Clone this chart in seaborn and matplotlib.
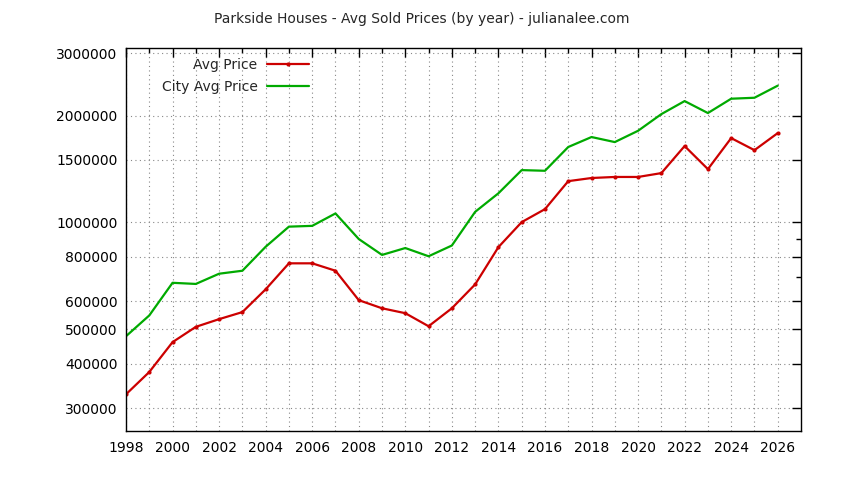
import numpy as np
import pandas as pd
import matplotlib
matplotlib.use('Agg')
import matplotlib.pyplot as plt
import matplotlib.ticker as mticker
import seaborn as sns

# Data
years = list(range(1998, 2027))
avg_price = [328000, 379000, 460000, 508000, 534000, 559000, 648000, 767000, 767000, 731000,
             604000, 573000, 555000, 510000, 573000, 669000, 852000, 1002000, 1090000, 1307000,
             1334000, 1343000, 1343000, 1377000, 1641000, 1413000, 1728000, 1598000, 1785000]
city_avg_price = [478000, 547000, 676000, 671000, 717000, 731000, 854000, 973000, 978000, 1060000,
                  898000, 810000, 847000, 803000, 861000, 1071000, 1208000, 1404000, 1398000, 1631000,
                  1740000, 1684000, 1812000, 2019000, 2197000, 2033000, 2231000, 2245000, 2428000]
y_ticks = [300000, 400000, 500000, 600000, 800000, 1000000, 1500000, 2000000, 3000000]
y_minor = [700000, 900000]
x_ticks = list(range(1998, 2027, 2))

df = pd.DataFrame({'Year': years, 'Avg Price': avg_price, 'City Avg Price': city_avg_price})

sns.set_style('white')
plt.rcParams['font.family'] = ['DejaVu Sans']
FS = 10

fig = plt.figure(figsize=(8.44, 4.8), dpi=100)
ax = fig.add_axes([126 / 844, 1 - 431 / 480, 675 / 844, 383 / 480])

sns.lineplot(data=df, x='Year', y='Avg Price', ax=ax, color='#cc0000', linewidth=1.6,
             marker='o', markersize=3, markeredgewidth=0, label='Avg Price')
sns.lineplot(data=df, x='Year', y='City Avg Price', ax=ax, color='#00aa00', linewidth=1.6,
             label='City Avg Price')

ax.set_yscale('log')
ax.set_ylim(258500, 3100000)
ax.set_xlim(1998, 2027)

ax.yaxis.set_major_locator(mticker.FixedLocator(y_ticks))
ax.yaxis.set_minor_locator(mticker.FixedLocator(y_minor))
ax.yaxis.set_major_formatter(mticker.FixedFormatter([str(v) for v in y_ticks]))
ax.yaxis.set_minor_formatter(mticker.NullFormatter())
ax.xaxis.set_major_locator(mticker.FixedLocator(x_ticks))
ax.xaxis.set_minor_locator(mticker.FixedLocator(years))

ax.tick_params(which='both', direction='in', top=True, right=True, color='black', width=1)
ax.tick_params(which='major', length=6.5, labelsize=FS, colors='black')
ax.tick_params(which='minor', length=3.5)
ax.tick_params(axis='x', which='major', pad=7)
ax.tick_params(axis='y', which='major', pad=6)

ax.grid(False)
ax.grid(axis='y', which='major', linestyle=(0, (1, 3)), color='#888888', linewidth=0.8)
ax.grid(axis='x', which='both', linestyle=(0, (1, 3)), color='#888888', linewidth=0.8)

for s in ax.spines.values():
    s.set_color('black')
    s.set_linewidth(1)

ax.set_xlabel('')
ax.set_ylabel('')
# title is centred on the whole figure, not on the axes
fig.text(0.5, 1 - 19 / 480, 'Parkside Houses - Avg Sold Prices (by year) - julianalee.com',
         fontsize=FS, ha='center', va='center')

ax.legend(loc='upper right', bbox_to_anchor=((309 - 126) / 675, 0.975), frameon=False,
          markerfirst=False, handlelength=3.0, handletextpad=0.7, labelspacing=0.6,
          borderpad=0, borderaxespad=0, fontsize=FS)

plt.savefig('out.png', dpi=100)
plt.close()
